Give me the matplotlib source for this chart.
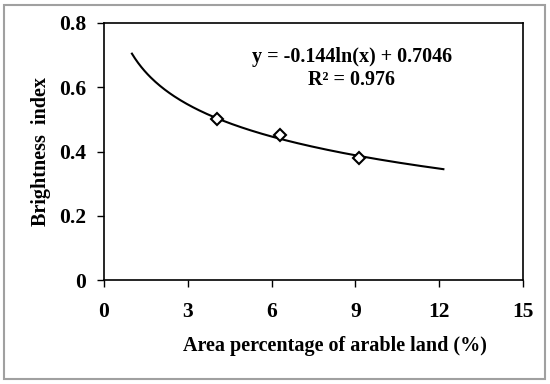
import numpy as np
import matplotlib
matplotlib.use("Agg")
import matplotlib.pyplot as plt
from matplotlib.patches import Rectangle

x_pts = [4.03, 6.30, 9.13]
y_pts = [0.50, 0.45, 0.38]
coef_a = -0.144
coef_b = 0.7046
fit_range = [1.0, 12.15]
xticks = [0, 3, 6, 9, 12, 15]
yticks = [0, 0.2, 0.4, 0.6, 0.8]
ytick_labels = ["0", "0.2", "0.4", "0.6", "0.8"]

plt.rcParams['font.family'] = ['Liberation Serif', 'DejaVu Serif']
plt.rcParams['font.weight'] = 'bold'

fig = plt.figure(figsize=(5.5, 3.84), dpi=100)
ax = fig.add_axes([104/550, 1-280/384, (523-104)/550, (280-23)/384])

xf = np.linspace(fit_range[0], fit_range[1], 200)
ax.plot(xf, coef_a*np.log(xf) + coef_b, color='black', lw=1.5)
ax.plot(x_pts, y_pts, linestyle='none', marker='D', markersize=6.5,
        markerfacecolor='white', markeredgecolor='black', markeredgewidth=1.5)

ax.set_xlim(0, 15)
ax.set_ylim(0, 0.8)
ax.set_xticks(xticks)
ax.set_yticks(yticks)
ax.set_yticklabels(ytick_labels)
ax.tick_params(axis='both', direction='out', length=5, width=1, labelsize=15.5, colors='black')
ax.tick_params(axis='x', pad=11)
ax.tick_params(axis='y', pad=8)
for s in ax.spines.values():
    s.set_linewidth(1.2)
for lbl in ax.get_xticklabels() + ax.get_yticklabels():
    lbl.set_fontweight('bold')

ax.set_xlabel("Area percentage of arable land (%)", fontsize=14.5, fontweight='bold')
ax.xaxis.set_label_coords(335/550, 1-346/384, transform=fig.transFigure)
ax.set_ylabel("Brightness  index", fontsize=14.5, fontweight='bold')
ax.yaxis.set_label_coords(41/550, 1-151/384, transform=fig.transFigure)
ax.xaxis.label.set_va('center')
ax.yaxis.label.set_va('center')

ax.text(352/550, 1-57/384, "y = -0.144ln(x) + 0.7046", transform=fig.transFigure,
        ha='center', va='center', fontsize=14.5, fontweight='bold')
ax.text(352/550, 1-80/384, "R² = 0.976", transform=fig.transFigure,
        ha='center', va='center', fontsize=14.5, fontweight='bold')

fig.patches.append(Rectangle((4/550, 5/384), 541/550, 374/384, transform=fig.transFigure,
                             fill=False, edgecolor='#a0a0a0', lw=1.5))

fig.savefig("out.png", dpi=100)
